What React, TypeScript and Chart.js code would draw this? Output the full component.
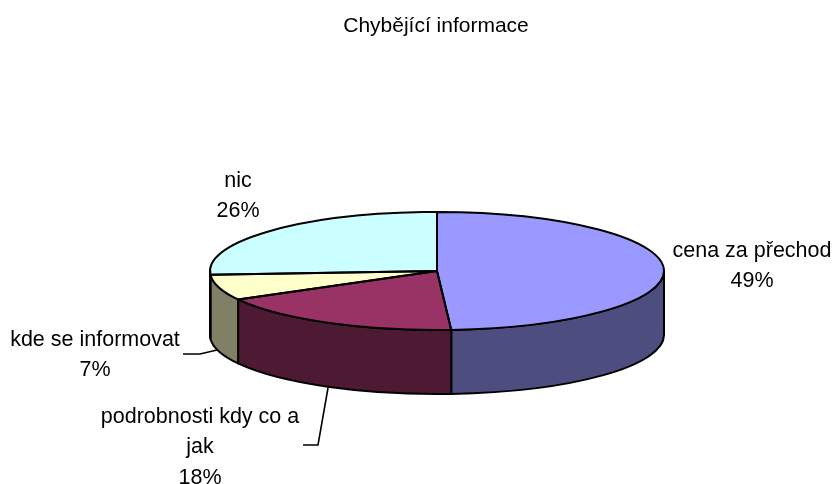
import React, { useEffect, useRef } from "react";
import { Chart, registerables } from "chart.js";

Chart.register(...registerables);

const chartTitle = "Chybějící informace";
const categories = ["cena za přechod", "podrobnosti kdy co a jak", "kde se informovat", "nic"];
const shares = [49, 18, 7, 26];
const topColors = ["#9999ff", "#993366", "#ffffcc", "#ccffff"];
const wallColors = ["#4d4d80", "#4d1933", "#808066", "#668080"];
const labelLines = [
  ["cena za přechod", "49%"],
  ["podrobnosti kdy co a", "jak", "18%"],
  ["kde se informovat", "7%"],
  ["nic", "26%"],
];
const labelAnchors = [
  [752, 251],
  [200, 417],
  [95, 340],
  [238, 181],
];
const leaders: number[][][] = [
  [],
  [[303, 445], [318, 445], [328, 388]],
  [[183, 354], [200, 354], [217, 350]],
  [],
];

const RADIUS = 227;
const SQUASH = 59 / 227;
const DEPTH = 64;
const FONT = "21.5px 'Liberation Sans', Arial, sans-serif";
const LINE = 2;

const pie3d = {
  id: "pie3d",
  beforeDatasetsDraw(chart: any) {
    const ctx = chart.ctx;
    const arcs = chart.getDatasetMeta(0).data;
    ctx.save();
    ctx.lineWidth = LINE;
    ctx.strokeStyle = "#000";
    ctx.lineJoin = "round";
    arcs.forEach((arc: any, i: number) => {
      const a1 = Math.max(arc.startAngle, 0);
      const a2 = Math.min(arc.endAngle, Math.PI);
      if (a2 <= a1) return;
      const r = arc.outerRadius;
      ctx.beginPath();
      ctx.ellipse(arc.x, arc.y, r, r * SQUASH, 0, a1, a2, false);
      ctx.ellipse(arc.x, arc.y + DEPTH, r, r * SQUASH, 0, a2, a1, true);
      ctx.closePath();
      ctx.fillStyle = wallColors[i];
      ctx.fill();
      ctx.stroke();
    });
    ctx.restore();
  },
  beforeDatasetDraw(chart: any) {
    const ctx = chart.ctx;
    const arc = chart.getDatasetMeta(0).data[0];
    ctx.save();
    ctx.translate(arc.x, arc.y);
    ctx.scale(1, SQUASH);
    ctx.translate(-arc.x, -arc.y);
  },
  afterDatasetDraw(chart: any) {
    const ctx = chart.ctx;
    ctx.restore();
    const arcs = chart.getDatasetMeta(0).data;
    ctx.save();
    ctx.lineWidth = LINE;
    ctx.strokeStyle = "#000";
    ctx.lineJoin = "round";
    arcs.forEach((arc: any) => {
      const r = arc.outerRadius;
      ctx.beginPath();
      ctx.moveTo(arc.x, arc.y);
      ctx.ellipse(arc.x, arc.y, r, r * SQUASH, 0, arc.startAngle, arc.endAngle, false);
      ctx.closePath();
      ctx.stroke();
    });
    ctx.restore();
  },
  afterDraw(chart: any) {
    const ctx = chart.ctx;
    ctx.save();
    ctx.fillStyle = "#000";
    ctx.strokeStyle = "#000";
    ctx.lineWidth = 1.6;
    ctx.textAlign = "center";
    ctx.textBaseline = "middle";
    ctx.font = "21px 'Liberation Sans', Arial, sans-serif";
    ctx.fillText(chartTitle, 436, 26);
    ctx.font = FONT;
    labelLines.forEach((lines, i) => {
      lines.forEach((t, j) => ctx.fillText(t, labelAnchors[i][0], labelAnchors[i][1] + j * 30.5));
      const pts = leaders[i];
      if (pts.length) {
        ctx.beginPath();
        pts.forEach((p, k) => (k ? ctx.lineTo(p[0], p[1]) : ctx.moveTo(p[0], p[1])));
        ctx.stroke();
      }
    });
    ctx.restore();
  },
};

export default function App() {
  const ref = useRef<HTMLCanvasElement>(null);
  useEffect(() => {
    document.body.style.margin = "0";
    const chart = new Chart(ref.current as HTMLCanvasElement, {
      type: "pie",
      data: {
        labels: categories,
        datasets: [
          {
            data: shares,
            backgroundColor: topColors,
            borderWidth: 0,
            radius: RADIUS,
            clip: false,
          } as any,
        ],
      },
      options: {
        responsive: false,
        animation: false,
        layout: { padding: { left: 38, top: 58 } },
        plugins: { legend: { display: false }, title: { display: false }, tooltip: { enabled: false } },
      },
      plugins: [pie3d],
    } as any);
    return () => chart.destroy();
  }, []);
  return <canvas ref={ref} width={836} height={484} style={{ display: "block" }} />;
}
